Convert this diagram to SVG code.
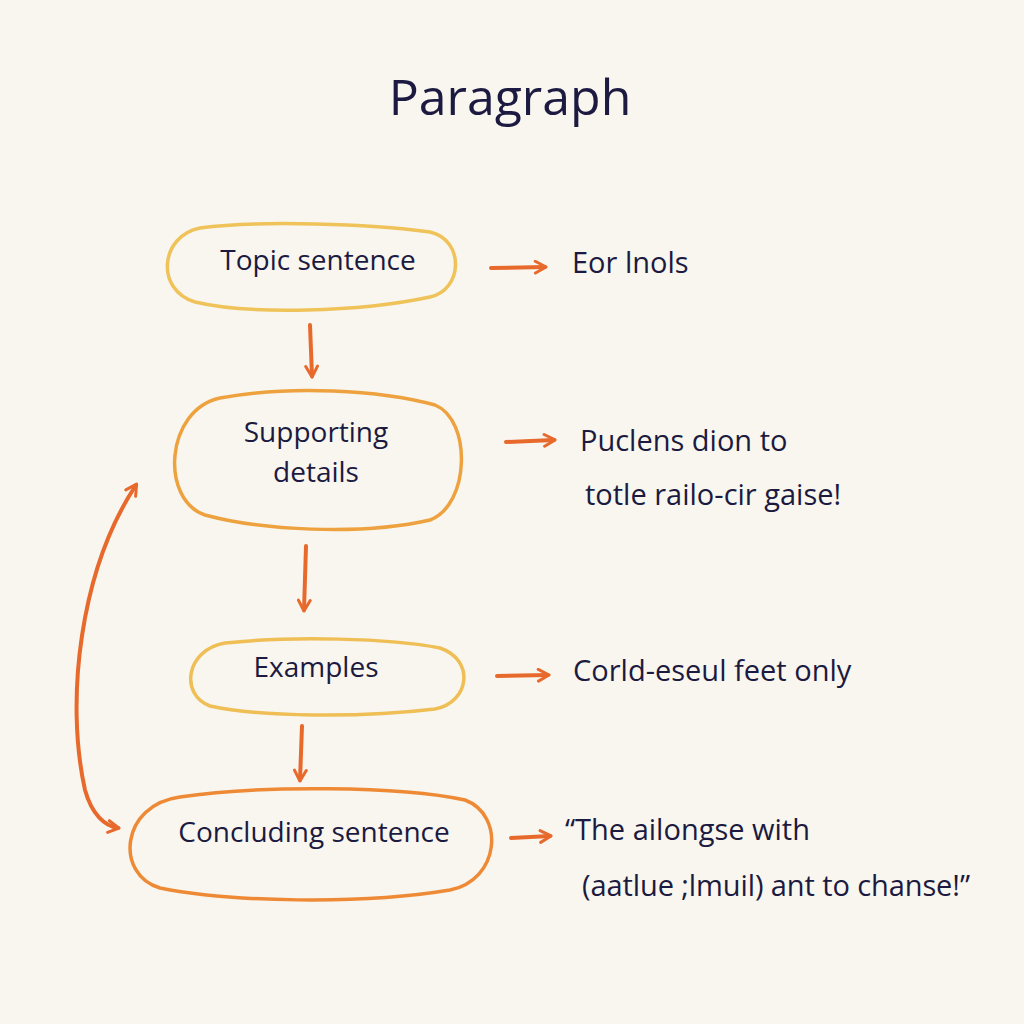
<svg xmlns="http://www.w3.org/2000/svg" width="1024" height="1024" viewBox="0 0 1024 1024">
<defs>
<style>
.t{font-family:"Open Sans","Liberation Sans",sans-serif;fill:#1c1a40;}
.n{font-size:28px;}
.r{font-size:29px;}
.blob{fill:none;stroke-width:3.5;stroke-linecap:round;}
.arr{fill:none;stroke:#e8692c;stroke-width:4;stroke-linecap:round;stroke-linejoin:round;}
</style>
<marker id="ah" viewBox="0 0 14 14" refX="11" refY="7" markerWidth="15" markerHeight="15" markerUnits="userSpaceOnUse" orient="auto-start-reverse">
<path d="M2,1.5 L12,7 L2,12.5" fill="none" stroke="#e8692c" stroke-width="2.8" stroke-linecap="round" stroke-linejoin="round"/>
</marker>
</defs>
<rect width="1024" height="1024" fill="#f8f6ef"/>
<text class="t" x="510" y="115" font-size="50" text-anchor="middle">Paragraph</text>

<g id="node-topic">
<path class="blob" stroke="#efc35a" d="M200,228 C260,220 370,224 430,232 C465,240 463,290 430,297 C360,312 250,315 195,302 C155,290 160,236 200,228 Z"/>
<text class="t n" x="318" y="270" text-anchor="middle">Topic sentence</text>
</g>
<g id="node-supporting">
<path class="blob" stroke="#eea23f" d="M220,398 C290,385 380,390 435,405 C472,420 470,505 430,520 C360,536 260,530 205,515 C160,500 165,410 220,398 Z"/>
<text class="t n" x="316" y="442" text-anchor="middle">Supporting</text>
<text class="t n" x="316" y="482" text-anchor="middle">details</text>
</g>
<g id="node-examples">
<path class="blob" stroke="#efbe55" d="M225,643 C290,636 390,638 440,648 C475,660 470,702 435,709 C360,718 260,717 210,706 C180,695 185,650 225,643 Z"/>
<text class="t n" x="316" y="677" text-anchor="middle">Examples</text>
</g>
<g id="node-concluding">
<path class="blob" stroke="#ee8a36" d="M180,797 C260,785 400,786 465,800 C505,815 500,880 450,890 C360,905 230,902 160,888 C115,875 120,805 180,797 Z"/>
<text class="t n" x="314" y="842" text-anchor="middle">Concluding sentence</text>
</g>

<g id="notes">
<text class="t r" x="572" y="273">Eor lnols</text>
<text class="t r" x="580" y="451">Puclens dion to</text>
<text class="t r" x="585" y="505">totle railo-cir gaise!</text>
<text class="t r" x="573" y="681">Corld-eseul feet only</text>
<text class="t r" x="565" y="840">“The ailongse with</text>
<text class="t r" x="582" y="896" textLength="388">(aatlue ;lmuil) ant to chanse!”</text>
</g>

<g id="connectors">
<path class="arr" marker-end="url(#ah)" d="M310,325 L312,376"/>
<path class="arr" marker-end="url(#ah)" d="M306,546 L304,610"/>
<path class="arr" marker-end="url(#ah)" d="M302,726 L300,780"/>
<path class="arr" marker-end="url(#ah)" d="M491,268 L545,267"/>
<path class="arr" marker-end="url(#ah)" d="M506,442 L554,440"/>
<path class="arr" marker-end="url(#ah)" d="M497,676 L548,675"/>
<path class="arr" marker-end="url(#ah)" d="M511,838 L550,836"/>
<path class="arr" marker-start="url(#ah)" marker-end="url(#ah)" d="M136,485 C80,570 65,700 85,790 C92,815 105,826 118,828"/>
</g>
</svg>
